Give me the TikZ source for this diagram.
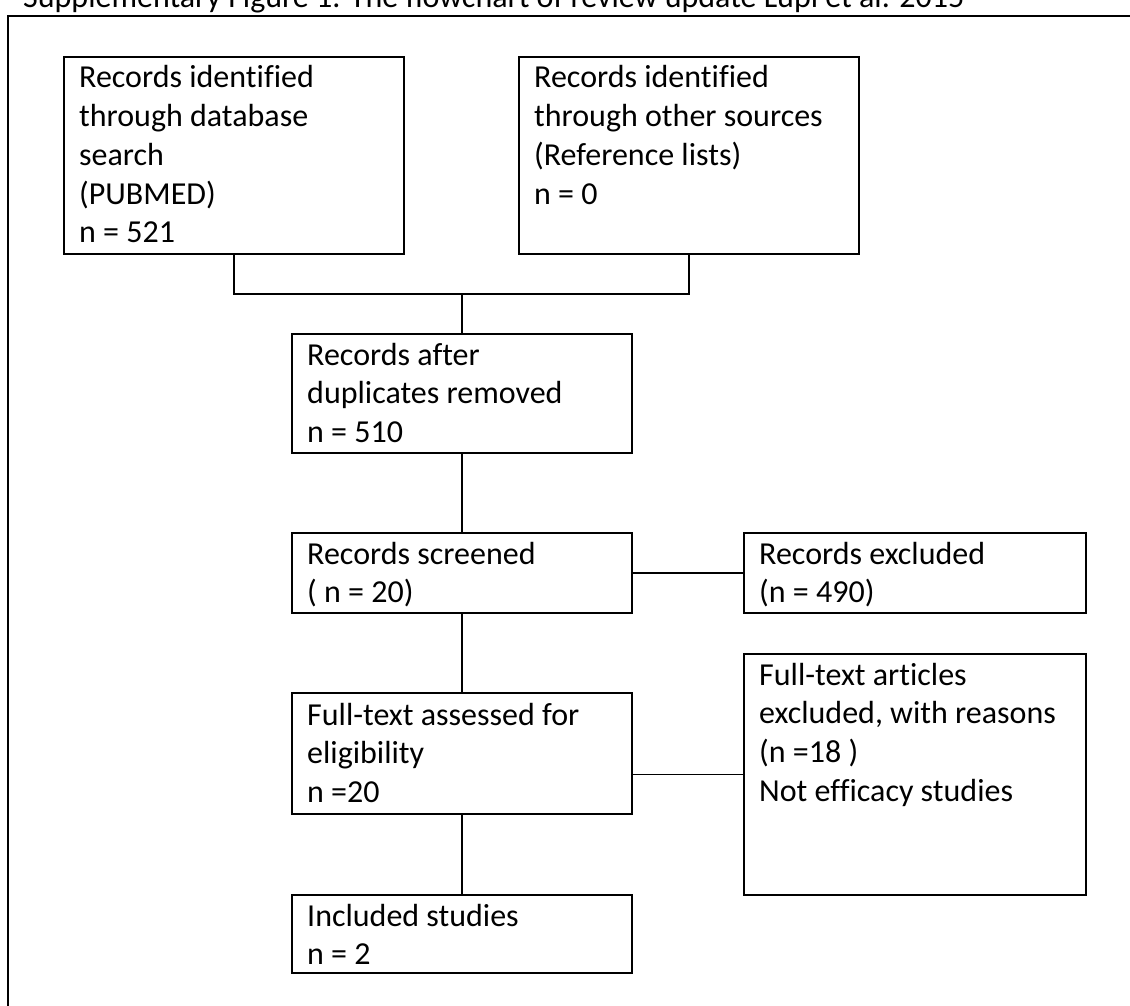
\documentclass[tikz,border=0pt]{standalone}
\usepackage{fontspec}
\setmainfont{Carlito}[Ligatures=NoCommon]
\newcommand{\boxlines}[1]{\begin{tabular}[t]{@{}l@{}}#1\end{tabular}}
\begin{document}
\begin{tikzpicture}[x=1pt,y=-1pt,
  box/.style={draw, line width=2pt, rectangle, anchor=north west, inner sep=0pt, outer sep=0pt},
  txt/.style={anchor=base west, inner sep=0pt, font=\fontsize{32}{38.7}\selectfont},
  conn/.style={line width=1.6pt}]
\useasboundingbox (0,0) rectangle (1130,1006);
\clip (0,0) rectangle (1130,1006);
% title and outer frame
\node[txt] (title) at (23,8) {Supplementary Figure 1. The flowchart of review update Lupi et al. 2015};
\draw[line width=2pt] (8,1020) -- (8,16) -- (1140,16);
% boxes
\node[box, minimum width=340pt, minimum height=197pt] (b1) at (64,57) {};
\node[box, minimum width=340pt, minimum height=197pt] (b2) at (519,57) {};
\node[box, minimum width=340pt, minimum height=119pt] (b3) at (292,334) {};
\node[box, minimum width=340pt, minimum height=80pt] (b4) at (292,533) {};
\node[box, minimum width=342pt, minimum height=80pt] (b5) at (744,533) {};
\node[box, minimum width=340pt, minimum height=121pt] (b6) at (292,693) {};
\node[box, minimum width=342pt, minimum height=241pt] (b7) at (744,654) {};
\node[box, minimum width=340pt, minimum height=78pt] (b8) at (292,895) {};
% texts
\node[txt] (t1) at (79,88) {\boxlines{Records identified\\through database\\search\\(PUBMED)\\n = 521}};
\node[txt] (t2) at (534,88) {\boxlines{Records identified\\through other sources\\(Reference lists)\\n = 0}};
\node[txt] (t3) at (307,365) {\boxlines{Records after\\duplicates removed\\n = 510}};
\node[txt] (t4) at (307,564) {\boxlines{Records screened\\( n = 20)}};
\node[txt] (t5) at (759,564) {\boxlines{Records excluded\\(n = 490)}};
\node[txt] (t6) at (307,725) {\boxlines{Full-text assessed for\\eligibility\\n =20}};
\node[txt] (t7) at (759,685) {\boxlines{Full-text articles\\excluded, with reasons\\(n =18 )\\Not efficacy studies}};
\node[txt] (t8) at (307,926) {\boxlines{Included studies\\n = 2}};
% connectors
\coordinate (j) at (462,294);
\draw[conn] (b1.south) -- (b1.south |- j) -- (b2.south |- j) -- (b2.south);
\draw[conn] (j) -- (b3.north);
\draw[conn] (b3.south) -- (b4.north);
\draw[conn] (b4.east) -- (b5.west);
\draw[conn] (b4.south) -- (b6.north);
\draw[conn] (b7.west -| b6.east) -- (b7.west);
\draw[conn] (b6.south) -- (b8.north);
\end{tikzpicture}
\end{document}
